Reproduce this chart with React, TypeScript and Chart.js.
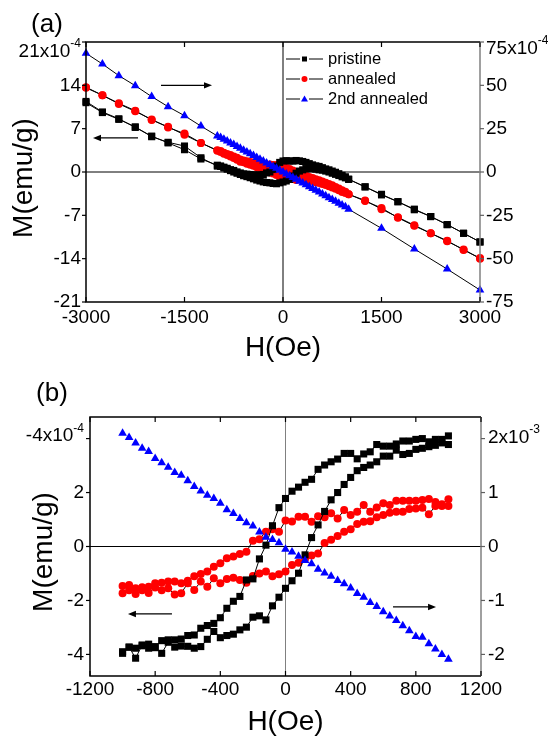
import React, { useEffect, useRef } from "react";
import { Chart, registerables } from "chart.js";

Chart.register(...registerables);

const FONT = '"Liberation Sans", Arial, Helvetica, sans-serif';
const W = 548;
const H = 369;

// ---------------- Panel (a) data (M in 1e-4 emu/g) ----------------
const H_A = [-3000, -2750, -2500, -2250, -2000, -1750, -1500, -1250, -1000, -950, -900, -850, -800, -750, -700, -650, -600, -550, -500, -450, -400, -350, -300, -250, -200, -150, -100, -50, 0, 50, 100, 150, 200, 250, 300, 350, 400, 450, 500, 550, 600, 650, 700, 750, 800, 850, 900, 950, 1000, 1250, 1500, 1750, 2000, 2250, 2500, 2750, 3000];
const PRISTINE_A_DOWN = [11.4, 9.7, 8.6, 7.2, 5.8, 4.7, 3.6, 2.1, 1.1, 0.97, 0.78, 0.6, 0.38, 0.25, 0.02, -0.15, -0.3, -0.35, -0.4, -0.45, -0.5, -0.45, -0.4, -0.15, 0.0, 0.4, 0.95, 1.55, 1.78, 1.83, 1.8, 1.75, 1.86, 1.8, 1.7, 1.55, 1.35, 1.15, 1.0, 0.9, 0.7, 0.5, 0.35, 0.15, -0.04, -0.27, -0.53, -0.77, -1.15, -2.4, -3.6, -4.8, -6.0, -7.2, -8.5, -9.9, -11.3];
const PRISTINE_A_UP = [11.2, 9.6, 8.5, 7.3, 5.7, 4.8, 4.2, 2.3, 0.95, 0.9, 0.65, 0.45, 0.22, 0.0, -0.2, -0.4, -0.6, -0.75, -0.92, -1.1, -1.3, -1.45, -1.6, -1.7, -1.75, -1.85, -1.9, -1.75, -1.62, -1.45, -1.2, -0.65, -0.2, 0.15, 0.35, 0.5, 0.55, 0.55, 0.45, 0.35, 0.3, 0.15, 0.0, -0.2, -0.38, -0.57, -0.78, -0.95, -1.2, -2.4, -3.7, -4.8, -6.1, -7.2, -8.5, -9.9, -11.3];
const ANNEALED_A_DOWN = [13.7, 12.4, 11.1, 9.9, 8.4, 7.3, 6.0, 4.7, 3.5, 3.39, 3.12, 2.9, 2.74, 2.52, 2.31, 2.02, 1.84, 1.73, 1.61, 1.52, 1.46, 1.38, 1.25, 1.19, 1.23, 1.12, 1.12, 1.01, 0.95, 0.72, 0.49, 0.23, 0.02, -0.19, -0.4, -0.6, -0.81, -0.97, -1.18, -1.33, -1.54, -1.75, -1.93, -2.16, -2.42, -2.68, -2.96, -3.21, -3.6, -4.7, -5.8, -7.4, -8.7, -9.9, -11.1, -12.6, -13.9];
const ANNEALED_A_UP = [13.6, 12.4, 11.0, 9.8, 8.5, 7.2, 6.2, 4.7, 3.45, 3.24, 2.96, 2.73, 2.52, 2.26, 1.96, 1.65, 1.59, 1.33, 1.18, 1.02, 0.76, 0.6, 0.35, -0.01, -0.07, -0.23, -0.49, -0.74, -0.93, -0.94, -1.07, -1.15, -1.29, -1.14, -1.23, -1.3, -1.42, -1.47, -1.65, -1.78, -1.92, -2.09, -2.32, -2.49, -2.71, -2.96, -3.24, -3.39, -3.6, -4.6, -6.0, -7.3, -8.6, -9.9, -11.2, -12.5, -14.0];
const H_A2 = [-3000, -2750, -2500, -2250, -2000, -1750, -1500, -1250, -1000, -950, -900, -850, -800, -750, -700, -650, -600, -550, -500, -450, -400, -350, -300, -250, -200, -150, -100, -50, 0, 50, 100, 150, 200, 250, 300, 350, 400, 450, 500, 550, 600, 650, 700, 750, 800, 850, 900, 950, 1000, 1500, 2000, 2500, 3000];
const ANNEALED2_A = [68.5, 62.3, 55.6, 49.8, 43.5, 37.7, 32.5, 26.5, 20.8, 19.9, 18.9, 17.9, 16.8, 15.8, 14.7, 13.7, 12.6, 11.6, 10.5, 9.5, 8.4, 7.4, 6.3, 5.2, 4.2, 3.1, 2.1, 1.0, 0.0, -1.1, -2.1, -3.2, -4.2, -5.3, -6.3, -7.4, -8.5, -9.5, -10.6, -11.6, -12.7, -13.7, -14.8, -15.9, -16.9, -18.0, -19.0, -20.1, -21.5, -32.5, -44.4, -56.0, -68.1];

// ---------------- Panel (b) data ----------------
const H_B = [-1000, -960, -920, -880, -840, -800, -760, -720, -680, -640, -600, -560, -520, -480, -440, -400, -360, -320, -280, -240, -200, -160, -120, -80, -40, 0, 40, 80, 120, 160, 200, 240, 280, 320, 360, 400, 440, 480, 520, 560, 600, 640, 680, 720, 760, 800, 840, 880, 920, 960, 1000];
const PRISTINE_B_DOWN = [-3.9, -3.73, -3.77, -3.68, -3.62, -3.71, -3.49, -3.46, -3.46, -3.43, -3.3, -3.28, -3.03, -2.93, -2.85, -2.64, -2.29, -2.03, -1.85, -1.24, -1.2, -0.46, 0.05, 0.77, 1.44, 1.78, 2.05, 2.2, 2.38, 2.49, 2.86, 3.02, 3.14, 3.24, 3.45, 3.45, 3.25, 3.43, 3.51, 3.78, 3.72, 3.72, 3.8, 3.91, 3.91, 3.97, 4.0, 3.88, 3.97, 3.97, 4.1];
const PRISTINE_B_UP = [-3.96, -3.73, -4.14, -3.65, -3.77, -3.75, -3.96, -3.55, -3.73, -3.69, -3.7, -3.77, -3.71, -3.44, -3.15, -3.38, -3.3, -3.25, -3.09, -2.99, -2.62, -2.57, -2.72, -2.2, -1.88, -1.55, -1.27, -0.99, -0.31, 0.33, 0.8, 1.3, 1.73, 2.0, 2.3, 2.56, 2.81, 2.93, 3.02, 3.14, 3.35, 3.35, 3.57, 3.41, 3.45, 3.6, 3.64, 3.7, 3.75, 3.84, 3.78];
const ANNEALED_B_DOWN = [-1.46, -1.43, -1.55, -1.51, -1.49, -1.36, -1.34, -1.3, -1.3, -1.36, -1.27, -1.1, -1.02, -0.93, -0.75, -0.62, -0.44, -0.37, -0.28, -0.19, 0.21, 0.27, 0.55, 0.64, 0.55, 0.96, 0.93, 1.1, 1.1, 0.92, 1.12, 1.08, 1.23, 1.04, 1.35, 1.17, 1.29, 1.54, 1.29, 1.45, 1.6, 1.54, 1.7, 1.7, 1.7, 1.7, 1.72, 1.76, 1.65, 1.57, 1.75];
const ANNEALED_B_UP = [-1.73, -1.62, -1.76, -1.62, -1.72, -1.52, -1.62, -1.55, -1.78, -1.73, -1.36, -1.61, -1.3, -1.49, -1.18, -1.36, -1.2, -1.16, -1.24, -1.34, -1.09, -1.0, -0.93, -1.1, -1.03, -0.93, -0.69, -0.6, -0.45, -0.33, -0.26, 0.13, 0.25, 0.39, 0.55, 0.64, 0.83, 0.92, 0.94, 1.08, 1.17, 1.25, 1.29, 1.29, 1.39, 1.41, 1.44, 1.2, 1.5, 1.5, 1.5];
const ANNEALED2_B = [2.1, 2.02, 1.92, 1.82, 1.76, 1.63, 1.55, 1.47, 1.37, 1.32, 1.22, 1.11, 1.03, 0.95, 0.89, 0.8, 0.68, 0.61, 0.52, 0.44, 0.38, 0.27, 0.17, 0.13, 0.07, -0.05, -0.1, -0.18, -0.26, -0.32, -0.42, -0.49, -0.55, -0.63, -0.69, -0.77, -0.87, -0.94, -1.04, -1.11, -1.21, -1.29, -1.37, -1.47, -1.56, -1.67, -1.68, -1.8, -1.9, -2.0, -2.09];

// ---------------- ticks ----------------
const A_X_TICKS = [-3000, -1500, 0, 1500, 3000];
const A_X_LABELS = ["-3000", "-1500", "0", "1500", "3000"];
const A_Y_TICKS = [-21, -14, -7, 0, 7, 14, 21];
const A_Y_LABELS = ["-21", "-14", "-7", "0", "7", "14", "21x10^-4"];
const A_Y2_TICKS = [-75, -50, -25, 0, 25, 50, 75];
const A_Y2_LABELS = ["-75", "-50", "-25", "0", "25", "50", "75x10^-4"];
const B_X_TICKS = [-1200, -800, -400, 0, 400, 800, 1200];
const B_X_LABELS = ["-1200", "-800", "-400", "0", "400", "800", "1200"];
const B_Y_TICKS = [-4, -2, 0, 2, 4];
const B_Y_LABELS = ["-4", "-2", "0", "2", "-4x10^-4"];
const B_Y2_TICKS = [-2, -1, 0, 1, 2];
const B_Y2_LABELS = ["-2", "-1", "0", "1", "2x10^-3"];

const LEGEND_LABELS = ["pristine", "annealed", "2nd annealed"];

function pairs(h: number[], v: number[]) {
  return h.map((x, i) => ({ x, y: v[i] }));
}
function loop(h: number[], down: number[], up: number[]) {
  const pts: { x: number; y: number }[] = [];
  for (let i = h.length - 1; i >= 0; i--) pts.push({ x: h[i], y: down[i] });
  for (let i = 0; i < h.length; i++) pts.push({ x: h[i], y: up[i] });
  return pts;
}

const BLACK = "#000000";
const RED = "#ff0000";
const BLUE = "#0000ff";

function ds(label: string, data: any[], axis: string, style: string, color: string, radius: number, line: boolean) {
  return {
    label,
    data,
    yAxisID: axis,
    showLine: line,
    borderColor: BLACK,
    borderWidth: 1,
    tension: 0,
    pointStyle: style,
    pointRadius: radius,
    pointBackgroundColor: color,
    pointBorderColor: color,
    pointBorderWidth: 0,
    clip: false as any,
  };
}

type Spec = {
  tag: string;
  tagX: number;
  tagY: number;
  area: { left: number; right: number; top: number; bottom: number };
  xMin: number; xMax: number; yMin: number; yMax: number; y2Min: number; y2Max: number;
  xTicks: number[]; xLabels: string[];
  yTicks: number[]; yLabels: string[];
  y2Ticks: number[]; y2Labels: string[];
  xLabelDy: number; yLabelGap: number; y2LabelGap: number;
  yTop: [number, number]; y2Top: [number, number];
  xTitleY: number; yTitleX: number; yTitleY: number;
  zeroVColor: string;
  legend: boolean;
  arrows: { x1: number; x2: number; y: number }[];
  datasets: any[];
};

const SPEC_A: Spec = {
  tag: "(a)", tagX: 47, tagY: 25,
  area: { left: 86, right: 480, top: 42, bottom: 302 },
  xMin: -3000, xMax: 3000, yMin: -21, yMax: 21, y2Min: -75, y2Max: 75,
  xTicks: A_X_TICKS, xLabels: A_X_LABELS,
  yTicks: A_Y_TICKS, yLabels: A_Y_LABELS,
  y2Ticks: A_Y2_TICKS, y2Labels: A_Y2_LABELS,
  xLabelDy: 16, yLabelGap: 5, y2LabelGap: 6,
  yTop: [10, 2], y2Top: [7, -1],
  xTitleY: 348, yTitleX: 24, yTitleY: 178,
  zeroVColor: "#000000",
  legend: true,
  arrows: [
    { x1: -1858, x2: -1081, y: 14 },
    { x1: -2208, x2: -2893, y: 5.5 },
  ],
  datasets: [
    ds(LEGEND_LABELS[2], pairs(H_A2, ANNEALED2_A), "y2", "triangle", BLUE, 5, true),
    ds(LEGEND_LABELS[0], loop(H_A, PRISTINE_A_DOWN, PRISTINE_A_UP), "y", "rect", BLACK, 5, true),
    ds(LEGEND_LABELS[1], loop(H_A, ANNEALED_A_DOWN, ANNEALED_A_UP), "y", "circle", RED, 4, true),
  ],
};

const SPEC_B: Spec = {
  tag: "(b)", tagX: 52, tagY: 25,
  area: { left: 90, right: 481, top: 48, bottom: 307 },
  xMin: -1200, xMax: 1200, yMin: -4.8, yMax: 4.8, y2Min: -2.4, y2Max: 2.4,
  xTicks: B_X_TICKS, xLabels: B_X_LABELS,
  yTicks: B_Y_TICKS, yLabels: B_Y_LABELS,
  y2Ticks: B_Y2_TICKS, y2Labels: B_Y2_LABELS,
  xLabelDy: 14, yLabelGap: 6, y2LabelGap: 7,
  yTop: [-2.5, -9.5], y2Top: [-0.5, -8.5],
  xTitleY: 353, yTitleX: 44, yTitleY: 183,
  zeroVColor: "#808080",
  legend: false,
  arrows: [
    { x1: -697, x2: -967, y: -2.5 },
    { x1: 660, x2: 924, y: -2.24 },
  ],
  datasets: [
    ds(LEGEND_LABELS[2], pairs(H_B, ANNEALED2_B), "y2", "triangle", BLUE, 5, false),
    ds(LEGEND_LABELS[0], loop(H_B, PRISTINE_B_DOWN, PRISTINE_B_UP), "y", "rect", BLACK, 5, true),
    ds(LEGEND_LABELS[1], loop(H_B, ANNEALED_B_DOWN, ANNEALED_B_UP), "y", "circle", RED, 4, true),
  ],
};

function drawTickLabel(ctx: CanvasRenderingContext2D, text: string, x: number, y: number, align: string, top: [number, number]) {
  const parts = text.split("^");
  const main = parts[0];
  const sup = parts[1];
  ctx.textBaseline = "middle";
  ctx.font = `19px ${FONT}`;
  const wm = ctx.measureText(main).width;
  let ws = 0;
  if (sup) {
    ctx.font = `12px ${FONT}`;
    ws = ctx.measureText(sup).width;
  }
  const total = wm + ws;
  const x0 = align === "left" ? x : align === "right" ? x - total : x - total / 2;
  ctx.textAlign = "left";
  ctx.font = `19px ${FONT}`;
  ctx.fillText(main, x0, y + (sup ? top[0] : 0));
  if (sup) {
    ctx.font = `12px ${FONT}`;
    ctx.fillText(sup, x0 + wm, y + top[1]);
  }
}

function drawMarker(ctx: CanvasRenderingContext2D, style: string, x: number, y: number, color: string) {
  ctx.fillStyle = color;
  ctx.beginPath();
  if (style === "rect") {
    ctx.rect(x - 2.5, y - 2.5, 5, 5);
  } else if (style === "circle") {
    ctx.arc(x, y, 3, 0, Math.PI * 2);
  } else {
    ctx.moveTo(x, y - 3.5);
    ctx.lineTo(x + 3.5, y + 2.5);
    ctx.lineTo(x - 3.5, y + 2.5);
    ctx.closePath();
  }
  ctx.fill();
}

function makePlugin(spec: Spec) {
  return {
    id: "decor",
    beforeDatasetsDraw(chart: any) {
      const ctx: CanvasRenderingContext2D = chart.ctx;
      const { left, right, top, bottom } = chart.chartArea;
      const xs = chart.scales.x;
      const ys = chart.scales.y;
      ctx.save();
      ctx.lineWidth = 1;
      ctx.strokeStyle = "#000";
      const y0 = ys.getPixelForValue(0);
      ctx.beginPath();
      ctx.moveTo(left, y0);
      ctx.lineTo(right, y0);
      ctx.stroke();
      ctx.strokeStyle = spec.zeroVColor;
      const x0 = xs.getPixelForValue(0);
      ctx.beginPath();
      ctx.moveTo(x0, top);
      ctx.lineTo(x0, bottom);
      ctx.stroke();
      ctx.restore();
    },
    afterDraw(chart: any) {
      const ctx: CanvasRenderingContext2D = chart.ctx;
      const { left, right, top, bottom } = chart.chartArea;
      const xs = chart.scales.x;
      const ys = chart.scales.y;
      const y2s = chart.scales.y2;
      ctx.save();
      // frame
      ctx.lineWidth = 1.5;
      ctx.strokeStyle = "#000";
      ctx.beginPath();
      ctx.moveTo(right, top);
      ctx.lineTo(left, top);
      ctx.lineTo(left, bottom);
      ctx.lineTo(right, bottom);
      ctx.stroke();
      ctx.strokeStyle = "#808080";
      ctx.beginPath();
      ctx.moveTo(right, top);
      ctx.lineTo(right, bottom);
      ctx.stroke();

      // ticks
      ctx.lineWidth = 1.2;
      ctx.strokeStyle = "#000";
      ctx.fillStyle = "#000";
      spec.xTicks.forEach((v, i) => {
        const px = xs.getPixelForValue(v);
        ctx.beginPath();
        ctx.moveTo(px, bottom);
        ctx.lineTo(px, bottom - 5);
        ctx.moveTo(px, top);
        ctx.lineTo(px, top + 5);
        ctx.stroke();
        drawTickLabel(ctx, spec.xLabels[i], px, bottom + spec.xLabelDy, "center", [0, 0]);
      });
      spec.yTicks.forEach((v, i) => {
        const py = ys.getPixelForValue(v);
        ctx.strokeStyle = "#000";
        ctx.beginPath();
        ctx.moveTo(left - 4, py);
        ctx.lineTo(left, py);
        ctx.stroke();
        drawTickLabel(ctx, spec.yLabels[i], left - spec.yLabelGap, py, "right", spec.yTop);
      });
      spec.y2Ticks.forEach((v, i) => {
        const py = y2s.getPixelForValue(v);
        ctx.strokeStyle = "#606060";
        ctx.beginPath();
        ctx.moveTo(right, py);
        ctx.lineTo(right + 4, py);
        ctx.stroke();
        drawTickLabel(ctx, spec.y2Labels[i], right + spec.y2LabelGap, py, "left", spec.y2Top);
      });

      // titles
      ctx.fillStyle = "#000";
      ctx.textAlign = "center";
      ctx.textBaseline = "middle";
      ctx.font = `28px ${FONT}`;
      ctx.fillText("H(Oe)", (left + right) / 2, spec.xTitleY);
      ctx.save();
      ctx.translate(spec.yTitleX, spec.yTitleY);
      ctx.rotate(-Math.PI / 2);
      ctx.fillText("M(emu/g)", 0, 0);
      ctx.restore();
      ctx.font = `26px ${FONT}`;
      ctx.fillText(spec.tag, spec.tagX, spec.tagY);

      // arrows
      ctx.strokeStyle = "#000";
      ctx.fillStyle = "#000";
      ctx.lineWidth = 1.2;
      spec.arrows.forEach((a) => {
        const x1 = xs.getPixelForValue(a.x1);
        const x2 = xs.getPixelForValue(a.x2);
        const py = ys.getPixelForValue(a.y);
        const dir = x2 > x1 ? 1 : -1;
        ctx.beginPath();
        ctx.moveTo(x1, py);
        ctx.lineTo(x2 - dir * 7, py);
        ctx.stroke();
        ctx.beginPath();
        ctx.moveTo(x2, py);
        ctx.lineTo(x2 - dir * 8, py - 3.2);
        ctx.lineTo(x2 - dir * 8, py + 3.2);
        ctx.closePath();
        ctx.fill();
      });

      // legend
      if (spec.legend) {
        const styles = ["rect", "circle", "triangle"];
        const colors = [BLACK, RED, BLUE];
        const rows = [59, 79, 99];
        const lx = 286;
        ctx.lineWidth = 1;
        rows.forEach((ry, i) => {
          ctx.strokeStyle = "#000";
          ctx.beginPath();
          ctx.moveTo(lx, ry);
          ctx.lineTo(lx + 14, ry);
          ctx.moveTo(lx + 23, ry);
          ctx.lineTo(lx + 37, ry);
          ctx.stroke();
          drawMarker(ctx, styles[i], lx + 18.5, ry, colors[i]);
          ctx.fillStyle = "#000";
          ctx.font = `16.5px ${FONT}`;
          ctx.textAlign = "left";
          ctx.textBaseline = "middle";
          ctx.fillText(LEGEND_LABELS[i], lx + 42, ry);
        });
      }
      ctx.restore();
    },
  };
}

function Panel({ spec }: { spec: Spec }) {
  const ref = useRef<HTMLCanvasElement>(null);
  useEffect(() => {
    const a = spec.area;
    const chart = new Chart(ref.current as HTMLCanvasElement, {
      type: "scatter",
      data: { datasets: spec.datasets },
      options: {
        animation: false,
        responsive: false,
        devicePixelRatio: 1,
        events: [],
        layout: { padding: { top: a.top, left: 0, right: 0, bottom: 0 } },
        plugins: { legend: { display: false }, tooltip: { enabled: false } },
        scales: {
          x: {
            type: "linear",
            position: "bottom",
            min: spec.xMin,
            max: spec.xMax,
            ticks: { display: false },
            grid: { display: false },
            border: { display: false },
            afterFit: (s: any) => {
              s.height = H - a.bottom;
            },
          },
          y: {
            type: "linear",
            position: "left",
            min: spec.yMin,
            max: spec.yMax,
            ticks: { display: false },
            grid: { display: false },
            border: { display: false },
            afterFit: (s: any) => {
              s.width = a.left;
            },
          },
          y2: {
            type: "linear",
            position: "right",
            min: spec.y2Min,
            max: spec.y2Max,
            ticks: { display: false },
            grid: { display: false },
            border: { display: false },
            afterFit: (s: any) => {
              s.width = W - a.right;
            },
          },
        },
      } as any,
      plugins: [makePlugin(spec)],
    });
    return () => chart.destroy();
  }, [spec]);
  return <canvas ref={ref} width={W} height={H} style={{ display: "block", width: W, height: H }} />;
}

export default function App() {
  return (
    <div style={{ position: "absolute", left: 0, top: 0, width: W, height: 2 * H, background: "#fff" }}>
      <Panel spec={SPEC_A} />
      <Panel spec={SPEC_B} />
    </div>
  );
}
